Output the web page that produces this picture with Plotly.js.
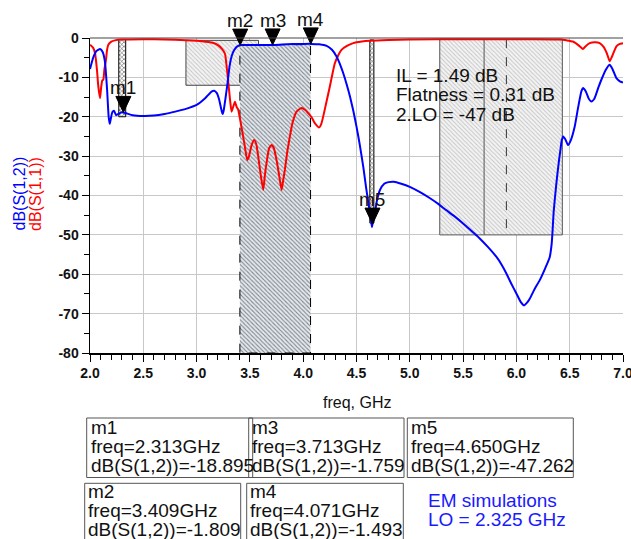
<!DOCTYPE html>
<html>
<head>
<meta charset="utf-8">
<script src="https://cdn.plot.ly/plotly-3.0.1.min.js"></script>
<style>html,body{margin:0;padding:0;background:#fff;}#chart{width:631px;height:539px;}</style>
</head>
<body>
<div id="chart"></div>
<script>
// ---------------- DATA ----------------
const s12Freq = [2.00,2.03,2.06,2.094,2.12,2.14,2.16,2.175,2.185,2.195,2.21,2.225,2.245,2.265,2.29,2.313,2.35,2.40,2.50,2.60,2.70,2.80,2.90,3.00,3.08,3.14,3.165,3.19,3.21,3.235,3.245,3.255,3.27,3.29,3.31,3.33,3.35,3.37,3.39,3.409,3.50,3.60,3.713,3.80,3.90,4.00,4.071,4.15,4.22,4.27,4.31,4.35,4.375,4.41,4.44,4.47,4.50,4.53,4.565,4.59,4.615,4.635,4.645,4.650,4.672,4.69,4.72,4.76,4.80,4.85,4.92,5.00,5.10,5.19,5.27,5.34,5.42,5.50,5.58,5.656,5.73,5.813,5.86,5.906,5.95,6.00,6.04,6.072,6.10,6.125,6.17,6.219,6.27,6.313,6.33,6.338,6.35,6.375,6.40,6.413,6.425,6.44,6.46,6.484,6.51,6.547,6.58,6.61,6.625,6.65,6.68,6.703,6.73,6.77,6.797,6.84,6.875,6.90,6.938,6.97,7.00];
const s12dB = [-7.9,-5.0,-3.3,-2.8,-3.6,-6.0,-13.0,-20.0,-21.8,-20.5,-18.8,-18.5,-19.6,-19.3,-18.9,-18.895,-19.2,-19.6,-19.8,-19.7,-19.3,-18.7,-18.0,-17.0,-15.3,-13.6,-13.4,-14.0,-15.5,-18.5,-19.3,-18.3,-15.5,-11.5,-7.0,-4.5,-3.2,-2.4,-2.0,-1.809,-1.75,-1.78,-1.759,-1.65,-1.55,-1.5,-1.493,-1.6,-2.0,-3.0,-4.6,-7.0,-8.9,-12.0,-15.0,-18.5,-22.5,-27.0,-33.0,-38.0,-42.5,-46.0,-48.0,-47.262,-44.5,-41.5,-38.6,-37.0,-36.6,-36.5,-37.0,-37.8,-39.2,-40.7,-42.2,-43.7,-45.3,-47.1,-49.0,-50.9,-53.0,-55.6,-57.5,-59.8,-62.3,-64.9,-67.0,-67.9,-67.2,-66.2,-63.8,-61.5,-58.5,-55.6,-52.5,-49.6,-44.0,-36.9,-31.0,-28.4,-26.0,-25.0,-25.8,-27.2,-26.0,-22.5,-17.5,-13.5,-12.7,-13.5,-15.5,-16.1,-15.5,-12.5,-10.6,-8.0,-6.8,-7.8,-10.2,-11.0,-11.3];

const s11Freq = [2.00,2.03,2.047,2.065,2.078,2.094,2.105,2.115,2.125,2.135,2.15,2.16,2.172,2.20,2.234,2.30,2.50,2.70,2.90,3.05,3.15,3.20,3.24,3.266,3.285,3.30,3.315,3.328,3.344,3.36,3.375,3.39,3.41,3.43,3.453,3.475,3.49,3.516,3.54,3.56,3.578,3.60,3.625,3.64,3.656,3.68,3.703,3.725,3.75,3.775,3.797,3.81,3.828,3.85,3.875,3.90,3.938,3.984,4.02,4.047,4.08,4.109,4.15,4.17,4.188,4.22,4.25,4.275,4.297,4.33,4.359,4.41,4.469,4.55,4.625,4.80,5.00,5.50,6.00,6.35,6.406,6.47,6.531,6.58,6.61,6.625,6.645,6.688,6.74,6.781,6.82,6.85,6.875,6.90,6.938,6.97,7.00];
const s11dB = [-1.7,-2.5,-3.8,-8.0,-12.3,-15.3,-12.5,-10.8,-10.6,-8.0,-5.5,-3.0,-1.7,-0.9,-0.6,-0.4,-0.3,-0.35,-0.55,-0.8,-1.2,-1.8,-2.8,-4.0,-8.0,-12.0,-16.0,-18.7,-17.4,-16.2,-17.5,-18.2,-21.0,-24.0,-27.6,-31.0,-30.2,-27.2,-25.9,-27.0,-30.1,-34.5,-38.6,-35.0,-31.8,-28.0,-27.2,-28.0,-31.0,-35.0,-38.6,-36.5,-33.5,-29.0,-25.0,-21.5,-18.7,-17.8,-18.3,-19.1,-20.2,-21.6,-22.7,-21.8,-19.9,-16.0,-12.3,-9.0,-6.4,-4.3,-3.0,-2.0,-1.3,-0.9,-0.7,-0.5,-0.4,-0.3,-0.3,-0.35,-0.4,-0.6,-0.9,-1.8,-2.5,-2.8,-2.2,-1.3,-1.1,-1.3,-2.3,-4.0,-5.9,-4.5,-2.1,-1.5,-1.3];

// markers
const markerNames = ['m1','m2','m3','m4','m5'];
const markerFreq  = [2.313, 3.409, 3.713, 4.071, 4.650];
const markerVal   = [-18.895, -1.809, -1.759, -1.493, -47.262];
const markerFreqText = ['2.313GHz','3.409GHz','3.713GHz','4.071GHz','4.650GHz'];
const markerValText  = ['-18.895','-1.809','-1.759','-1.493','-47.262'];

// hatched limit regions (GHz, dB)
const regionF0  = [2.270, 2.900, 3.406, 4.625, 5.281];
const regionF1  = [2.335, 3.581, 4.069, 4.663, 6.431];
const regionTop = [-0.4, -0.6, -1.7, -0.5, -0.3];
const regionBot = [-20, -12, -80, -47, -50];
const innerLineF = [5.697, 5.906];

// axis ticks
const xTickVals = [2.0,2.5,3.0,3.5,4.0,4.5,5.0,5.5,6.0,6.5,7.0];
const yTickVals = [0,-10,-20,-30,-40,-50,-60,-70,-80];
const yTickText = ['0','-10','-20','-30','-40','-50','-60','-70','-80'];
const xRange = [2.0, 7.0];
const yRange = [-80, 0];

const infoLines = ['IL = 1.49 dB', 'Flatness = 0.31 dB', '2.LO = -47 dB'];
const noteLines = ['EM simulations', 'LO = 2.325 GHz'];

// ---------------- LAYOUT HELPERS ----------------
const L = 90, R = 8, T = 38, B = 186, W = 631, H = 539;
const PW = W - L - R, PH = H - T - B;
const px = v => (v - L) / PW;
const py = v => (T + PH - v) / PH;
const FONT = 'Liberation Sans, Arial, sans-serif';

// region styles
const regionStyles = [
  {pat:{shape:'x', fgcolor:'#333', bgcolor:'#fff', size:3, solidity:0.3}, line:{color:'#000', width:1}},
  {pat:{shape:'\\', fgcolor:'#c4c4c4', bgcolor:'#f4f4f4', size:3, solidity:0.3}, line:{color:'#444', width:1}},
  {pat:{shape:'\\', fgcolor:'#7d8793', bgcolor:'#e6e8eb', size:3, solidity:0.35}, line:{color:'#000', width:1, dash:'dash'}},
  {pat:{shape:'x', fgcolor:'#333', bgcolor:'#fff', size:3, solidity:0.3}, line:{color:'#000', width:1}},
  {pat:{shape:'\\', fgcolor:'#c4c4c4', bgcolor:'#f4f4f4', size:3, solidity:0.3}, line:{color:'#555', width:1}}
];

const traces = [];
regionF0.forEach((f0, i) => {
  const f1 = regionF1[i], t = regionTop[i], b = regionBot[i];
  traces.push({
    x:[f0,f1,f1,f0,f0], y:[t,t,b,b,t], mode:'lines', fill:'toself',
    fillcolor:regionStyles[i].pat.bgcolor,
    fillpattern:regionStyles[i].pat, line:regionStyles[i].line,
    hoverinfo:'skip', showlegend:false
  });
});
// inner lines of the right region
innerLineF.forEach((f, i) => {
  traces.push({x:[f,f], y:[regionTop[4], regionBot[4]], mode:'lines',
    line:{color: i === 0 ? '#555' : '#333', width:1, dash: i === 0 ? 'solid' : 'dash'},
    hoverinfo:'skip', showlegend:false});
});

traces.push({x:s11Freq, y:s11dB, mode:'lines', line:{color:'#ff0000', width:2, shape:'spline', smoothing:0.5}, hoverinfo:'skip', showlegend:false});
traces.push({x:s12Freq, y:s12dB, mode:'lines', line:{color:'#0000ff', width:2, shape:'spline', smoothing:0.5}, hoverinfo:'skip', showlegend:false});

const shapes = [];
const annotations = [];

// marker triangles + labels
markerFreq.forEach((f, i) => {
  const yp = (markerVal[i] - yRange[0]) / (yRange[1] - yRange[0]);
  shapes.push({type:'path', xref:'x', yref:'paper', xsizemode:'pixel', ysizemode:'pixel',
    xanchor:f, yanchor:yp, path:'M-7.5,16L7.5,16L0,0Z', fillcolor:'#000', line:{color:'#000', width:1}});
  annotations.push({xref:'x', yref:'y', x:f, y:markerVal[i], text:markerNames[i], showarrow:false,
    xanchor:'center', yanchor:'bottom', yshift:12, font:{family:FONT, size:19, color:'#111'}});
});

// top frame line
shapes.push({type:'line', xref:'paper', yref:'paper', x0:0, x1:1, y0:1, y1:1, line:{color:'#444', width:1}});

// info text in plot
infoLines.forEach((t, i) => {
  annotations.push({xref:'paper', yref:'paper', x:px(394), y:py(75 + i*19.5), text:t, showarrow:false,
    xanchor:'left', yanchor:'middle', font:{family:FONT, size:19, color:'#111'}});
});

// marker readout boxes
const boxDefs = [
  {m:0, x0:86.7, x1:252.7, y0:418, tx:88.5, ty:427.5},
  {m:2, x0:248.7, x1:404, y0:418, tx:250, ty:427.5},
  {m:4, x0:407.3, x1:573.3, y0:418, tx:409.3, ty:427.5},
  {m:1, x0:84.7, x1:240.7, y0:483.3, tx:86.2, ty:491.5},
  {m:3, x0:246.7, x1:403.3, y0:483.3, tx:248.2, ty:491.5}
];
boxDefs.forEach(d => {
  const y1 = d.y0 + 59.5;
  shapes.push({type:'rect', xref:'paper', yref:'paper', x0:px(d.x0), x1:px(d.x1), y0:py(d.y0), y1:py(y1),
    line:{color:'#555', width:1}, fillcolor:'rgba(0,0,0,0)'});
  const lines = [markerNames[d.m], 'freq=' + markerFreqText[d.m], 'dB(S(1,2))=' + markerValText[d.m]];
  lines.forEach((t, k) => {
    annotations.push({xref:'paper', yref:'paper', x:px(d.tx), y:py(d.ty + k*18.8), text:t, showarrow:false,
      xanchor:'left', yanchor:'middle', font:{family:FONT, size:19, color:'#111'}});
  });
});

// EM note
noteLines.forEach((t, i) => {
  annotations.push({xref:'paper', yref:'paper', x:px(426), y:py(500 + i*19.5), text:t, showarrow:false,
    xanchor:'left', yanchor:'middle', font:{family:FONT, size:19, color:'#1a1aff'}});
});

// axis titles
annotations.push({xref:'paper', yref:'paper', x:px(357), y:py(403), text:'freq, GHz', showarrow:false,
  xanchor:'center', yanchor:'middle', font:{family:FONT, size:16, color:'#111'}});
annotations.push({xref:'paper', yref:'paper', x:px(18.5), y:py(194), text:'dB(S(1,2))', showarrow:false, textangle:-90,
  xanchor:'center', yanchor:'middle', font:{family:FONT, size:16, color:'#0000ff'}});
annotations.push({xref:'paper', yref:'paper', x:px(35), y:py(194), text:'dB(S(1,1))', showarrow:false, textangle:-90,
  xanchor:'center', yanchor:'middle', font:{family:FONT, size:16, color:'#ff0000'}});

const layout = {
  width:W, height:H, margin:{l:L, r:R, t:T, b:B, pad:0},
  paper_bgcolor:'#fff', plot_bgcolor:'#fff', showlegend:false, hovermode:false,
  xaxis:{range:xRange, tickvals:xTickVals, tickformat:'.1f', showgrid:true, gridcolor:'#c8c8c8', gridwidth:1,
    zeroline:false, showline:true, linecolor:'#000', linewidth:1.5, ticks:'outside', ticklen:7, tickcolor:'#000',
    ticklabeloverflow:'allow', 
    tickfont:{family:FONT, size:14, color:'#111', weight:'bold'},
    minor:{dtick:0.1, ticks:'outside', ticklen:5, tickcolor:'#000', showgrid:false}},
  yaxis:{range:yRange, tickvals:yTickVals, ticktext:yTickText, showgrid:true, gridcolor:'#c8c8c8', gridwidth:1,
    zeroline:false, showline:true, linecolor:'#000', linewidth:1.5, ticks:'outside', ticklen:7, tickcolor:'#000',
    tickfont:{family:FONT, size:14, color:'#111', weight:'bold'},
    minor:{dtick:5, ticks:'outside', ticklen:5, tickcolor:'#000', showgrid:false}},
  shapes:shapes, annotations:annotations
};

Plotly.newPlot('chart', traces, layout, {displayModeBar:false, staticPlot:true});
</script>
</body>
</html>
